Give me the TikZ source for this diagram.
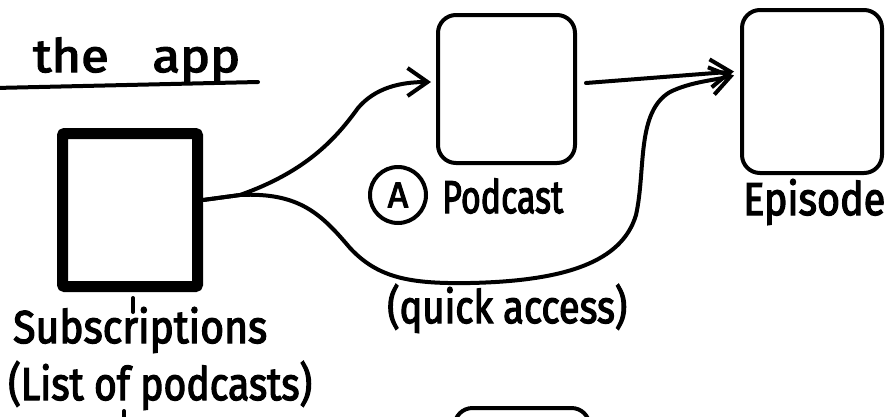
\documentclass[tikz,border=0pt]{standalone}
\usepackage{fontspec}
\setmainfont{Fira Sans}[FakeBold=3]
\usetikzlibrary{arrows.meta,calc}
\newcommand{\fitw}[2]{\resizebox{#1}{\height}{#2}}
\begin{document}
\begin{tikzpicture}[x=1pt,y=-1pt,
  pen/.style={line width=4pt, line cap=round, line join=round},
  screen/.style={draw, pen, rounded corners=18pt, inner sep=0pt},
  lbl/.style={anchor=base west, inner sep=0pt, font=\fontsize{46}{50}\selectfont},
  flow/.style={pen, -{Straight Barb[length=20pt,width=28pt]}},
]
\path[use as bounding box] (0,0) rectangle (888,416);
\clip (0,0) rectangle (888,416);

% screens
\node[screen, line width=11pt, rounded corners=1pt, minimum width=135pt, minimum height=153pt] (subs) at (130,210) {};
\node[screen, minimum width=137pt, minimum height=148pt] (podcast) at (506.5,89) {};
\node[screen, minimum width=140pt, minimum height=163pt] (episode) at (812,91.5) {};
\node[screen, minimum width=135pt, minimum height=120pt] (next) at (522,468) {};

% labels
\node[lbl] (title) at (33,72) {\fitw{207pt}{the\ \hspace{0.6em}app}};
\coordinate (ulA) at (-5,88);
\coordinate (ulB) at (258,82);
\draw[pen] (ulA) -- (ulB);

\node[lbl] (subst) at (13,343) {\fitw{254pt}{Subscriptions}};
\node[lbl] (list) at (8,400) {\fitw{304pt}{(List of podcasts)}};
\node[lbl] (podt) at (442,213) {\fitw{121pt}{Podcast}};
\node[lbl] (epit) at (743,215) {\fitw{142pt}{Episode}};
\node[lbl] (quick) at (387,323) {\fitw{240pt}{(quick access)}};
\node[draw, pen, circle, minimum size=56pt, inner sep=0pt, font=\fontsize{36}{38}\selectfont] (mark) at (398,195) {A};

% ticks
\draw[pen] ($(subs.south)+(3,6)$) -- ($(subs.south)+(3,20)$);
\coordinate (tickA) at (124,411);
\coordinate (tickB) at (124,420);
\draw[pen] (tickA) -- (tickB);

% connectors
\coordinate (start) at ($(subs.east)+(0,-10)$);
\coordinate (fork) at (240,195);
\coordinate (ptip) at ($(podcast.west)+(-5,-7)$);
\coordinate (etipA) at ($(episode.west)+(-6,-20)$);
\coordinate (etipB) at ($(episode.west)+(-6,-16)$);

\draw[flow] (start) -- (fork) .. controls (305,172) and (335,140) .. (358,108)
  .. controls (375,88) and (400,82) .. (ptip);
\draw[flow] (start) -- (fork) .. controls (300,192) and (322,215) .. (350,248)
  .. controls (378,278) and (410,284) .. (470,283)
  .. controls (565,281) and (622,262) .. (636,215)
  .. controls (646,170) and (636,112) .. (670,92)
  .. controls (690,82) and (715,80) .. (etipB);
\draw[flow] ($(podcast.east)+(9,-6)$) -- (etipA);
\end{tikzpicture}
\end{document}
